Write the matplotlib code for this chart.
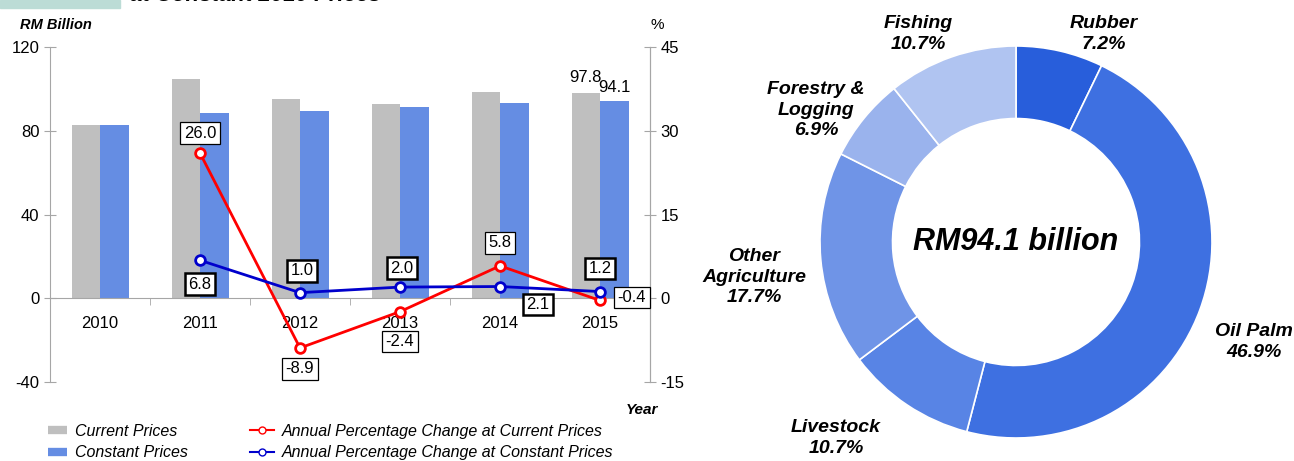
import matplotlib
matplotlib.use("Agg")
import matplotlib.pyplot as plt
from matplotlib.lines import Line2D

plt.rcParams["font.family"] = ["Liberation Sans", "DejaVu Sans"]
plt.rcParams["axes.unicode_minus"] = False

# ---------------------------------------------------------------------------
# data
years = ["2010", "2011", "2012", "2013", "2014", "2015"]
current_prices = [82.9, 104.5, 95.2, 92.9, 98.3, 97.8]
constant_prices = [82.9, 88.6, 89.5, 91.3, 93.2, 94.1]
pct_current = [None, 26.0, -8.9, -2.4, 5.8, -0.4]
pct_constant = [None, 6.8, 1.0, 2.0, 2.1, 1.2]

sectors = ["Rubber", "Oil Palm", "Livestock", "Other\nAgriculture",
           "Forestry &\nLogging", "Fishing"]
shares = [7.2, 46.9, 10.7, 17.7, 6.9, 10.7]
total_label = "RM94.1 billion"

# label offsets (pixels) for the percentage boxes
off_current = [None, (0, 20), (0, -21), (0, -30), (0, 23), (32, 3)]
off_constant = [None, (0, -24), (2, 22), (2, 19), (38, -18), (0, 23)]
# pie label positions in pie data units
pie_label_pos = [(0.449, 1.061), (1.214, -0.51), (-0.918, -1.0),
                 (-1.336, -0.179), (-1.02, 0.673), (-0.5, 1.061)]

GRAY = "#BFBFBF"
BLUE = "#658DE3"
RED = "#FF0000"
NAVY = "#0000CC"
SPINE = "#A6A6A6"
pie_colors = ["#285EDB", "#3E70E1", "#5884E5", "#6F94E7", "#9AB3ED", "#B0C4F1"]

W, H = 1294, 461
fig = plt.figure(figsize=(W / 100, H / 100), dpi=100)


def fx(px):
    return px / W


def fy(py):
    return 1 - py / H


# --- title remnant at the top --------------------------------------------
fig.patches.append(plt.Rectangle((0, fy(8)), fx(120), 8 / H, transform=fig.transFigure,
                                 color="#BCDCD6", zorder=0))
fig.text(fx(130), fy(1), "at Constant 2010 Prices", fontsize=16, fontweight="bold",
         fontstyle="italic", va="baseline", ha="left")

# --- bar + line chart -----------------------------------------------------
ax = fig.add_axes([fx(50), fy(382), fx(650) - fx(50), fy(47) - fy(382)])
x = list(range(len(years)))
bw = 0.285
ax.bar([i - bw / 2 for i in x], current_prices, width=bw, color=GRAY, zorder=2)
ax.bar([i + bw / 2 for i in x], constant_prices, width=bw, color=BLUE, zorder=2)
ax.set_xlim(-0.5, len(years) - 0.5)
ax.set_ylim(-40, 120)
ax.set_yticks([-40, 0, 40, 80, 120])
ax.set_xticks(x)
ax.set_xticklabels(years)
ax.set_xticks([i + 0.5 for i in range(-1, len(years))], minor=True)
ax.tick_params(axis="x", which="major", length=0, pad=13, labelsize=12)
ax.tick_params(axis="x", which="minor", length=5, direction="out", color=SPINE)
ax.tick_params(axis="y", length=8, direction="inout", color=SPINE, labelsize=12)
ax.spines["bottom"].set_position(("data", 0))
ax.spines["top"].set_visible(False)
for s in ["left", "bottom", "right"]:
    ax.spines[s].set_color(SPINE)

ax.text(x[-1] - bw / 2, current_prices[-1] + 4, f"{current_prices[-1]:.1f}",
        ha="center", va="bottom", fontsize=12)
ax.text(x[-1] + bw / 2, constant_prices[-1] + 3, f"{constant_prices[-1]:.1f}",
        ha="center", va="bottom", fontsize=12)

ax2 = ax.twinx()
ax2.set_ylim(-15, 45)
ax2.set_yticks([-15, 0, 15, 30, 45])
ax2.tick_params(axis="y", length=8, direction="inout", color=SPINE, labelsize=12)
for s in ["top", "left", "bottom"]:
    ax2.spines[s].set_visible(False)
ax2.spines["right"].set_color(SPINE)

xs = x[1:]
ax2.plot(xs, pct_current[1:], color=RED, lw=2, marker="o", ms=7,
         mfc="white", mec=RED, mew=2, zorder=3)
ax2.plot(xs, pct_constant[1:], color=NAVY, lw=2, marker="o", ms=7,
         mfc="white", mec=NAVY, mew=2, zorder=3)

for vals, offs, lw in [(pct_current, off_current, 0.9), (pct_constant, off_constant, 1.8)]:
    for i, (v, o) in enumerate(zip(vals, offs)):
        if v is None:
            continue
        ax2.annotate(f"{v:.1f}", (i, v), xytext=o, textcoords="offset pixels",
                     ha="center", va="center", fontsize=12, zorder=5,
                     bbox=dict(boxstyle="square,pad=0.2", fc="white", ec="black", lw=lw))

fig.text(fx(20), fy(25), "RM Billion", fontsize=10.5, fontweight="bold",
         fontstyle="italic", va="center", ha="left")
fig.text(fx(657), fy(25), "%", fontsize=11, va="center", ha="center")
fig.text(fx(658), fy(410), "Year", fontsize=11, fontweight="bold",
         fontstyle="italic", va="center", ha="right")

h1 = [Line2D([], [], color=GRAY, lw=6, solid_capstyle="butt"),
      Line2D([], [], color=BLUE, lw=6, solid_capstyle="butt")]
fig.legend(h1, ["Current Prices", "Constant Prices"], loc="upper left",
           bbox_to_anchor=(fx(48), fy(424)), frameon=False, borderpad=0,
           borderaxespad=0, handlelength=1.2, handletextpad=0.5,
           labelspacing=0.4, prop=dict(size=11.5, style="italic"))
h2 = [Line2D([], [], color=RED, lw=1.5, marker="o", ms=5, mfc="white", mec=RED),
      Line2D([], [], color=NAVY, lw=1.5, marker="o", ms=5, mfc="white", mec=NAVY)]
fig.legend(h2, ["Annual Percentage Change at Current Prices",
                "Annual Percentage Change at Constant Prices"], loc="upper left",
           bbox_to_anchor=(fx(250), fy(424)), frameon=False, borderpad=0,
           borderaxespad=0, handlelength=1.5, handletextpad=0.5,
           labelspacing=0.4, prop=dict(size=11.5, style="italic"))

# --- donut ----------------------------------------------------------------
cx, cy, r = 1016, 242, 196
half = 1.25 * r
axp = fig.add_axes([fx(cx - half), fy(cy + half), 2 * half / W, 2 * half / H])
axp.pie(shares, colors=pie_colors, startangle=90, counterclock=False,
        wedgeprops=dict(width=0.37, edgecolor="white", linewidth=1.2))
axp.set_xlim(-1.25, 1.25)
axp.set_ylim(-1.25, 1.25)
axp.set_aspect("equal")
axp.text(0, 0, total_label, ha="center", va="center", fontsize=22,
         fontweight="bold", fontstyle="italic")
for name, share, (lx, ly) in zip(sectors, shares, pie_label_pos):
    axp.text(lx, ly, f"{name}\n{share:.1f}%", ha="center", va="center",
             fontsize=14, fontweight="bold", fontstyle="italic", linespacing=1.3)

fig.savefig("out.png", dpi=100)
